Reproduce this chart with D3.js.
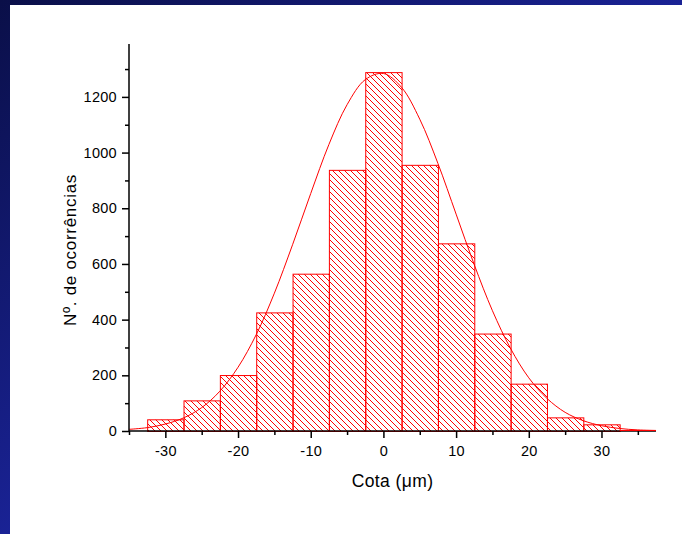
<!DOCTYPE html>
<html>
<head>
<meta charset="utf-8">
<script src="https://cdn.jsdelivr.net/npm/d3@7"></script>
<style>
  body { margin: 0; padding: 0; overflow: hidden; }
  text { font-family: Arial, "Liberation Sans", sans-serif; }
</style>
</head>
<body>
<div id="chart"></div>
<script>
// histogram bins (centre of each 5 µm class) and counts
const binCenters = [-30, -25, -20, -15, -10, -5, 0, 5, 10, 15, 20, 25, 30];
const counts = [42, 110, 201, 426, 565, 938, 1289, 956, 674, 350, 170, 49, 24];
const binWidth = 5;

// fitted normal curve
const fitX = [-35, -32.5, -30, -27.5, -25, -22.5, -20, -17.5, -15, -12.5, -10, -7.5, -5, -2.5,
              0, 2.5, 5, 7.5, 10, 12.5, 15, 17.5, 20, 22.5, 25, 27.5, 30, 32.5, 35, 37.5];
const fitY = [6, 12, 25, 47, 84, 143, 229, 346, 495, 669, 853, 1029, 1172, 1262,
              1284, 1234, 1120, 961, 779, 597, 432, 296, 191, 117, 67, 37, 19, 9, 4, 2];

const xTicks = [-30, -20, -10, 0, 10, 20, 30];
const xMinorTicks = [-35, -25, -15, -5, 5, 15, 25, 35];
const yTicks = [0, 200, 400, 600, 800, 1000, 1200];
const yMinorTicks = [100, 300, 500, 700, 900, 1100, 1300];

const width = 682;
const height = 534;
const red = "#ff0000";

const svg = d3.select("#chart")
    .append("svg")
    .attr("width", width)
    .attr("height", height);

const defs = svg.append("defs");

let grad = defs.append("linearGradient")
    .attr("id", "bg")
    .attr("x1", 0).attr("y1", 0)
    .attr("x2", 1).attr("y2", 1);
grad.append("stop").attr("offset", "0%").attr("stop-color", "#0a0f48");
grad.append("stop").attr("offset", "55%").attr("stop-color", "#1b249c");
grad.append("stop").attr("offset", "100%").attr("stop-color", "#1f2cb2");

let hatch = defs.append("pattern")
    .attr("id", "hatch")
    .attr("patternUnits", "userSpaceOnUse")
    .attr("width", 6)
    .attr("height", 6);
hatch.append("path")
    .attr("d", "M-1,-1L7,7M-1,5L1,7M5,-1L7,1")
    .attr("stroke", red)
    .attr("stroke-width", 1)
    .attr("fill", "none");

// blue frame with white page
svg.append("rect")
    .attr("width", width)
    .attr("height", height)
    .attr("fill", "url(#bg)");
svg.append("rect")
    .attr("x", 10)
    .attr("y", 5)
    .attr("width", width - 10)
    .attr("height", height - 5)
    .attr("fill", "white");

const x = d3.scaleLinear().domain([-35, 37.5]).range([129, 656]);
const y = d3.scaleLinear().domain([0, 1390]).range([431, 44]);

// bars
svg.selectAll("rect.bar")
    .data(binCenters)
    .enter()
    .append("rect")
    .attr("class", "bar")
    .attr("x", d => x(d - binWidth / 2) + 0.5)
    .attr("y", (d, i) => y(counts[i]) + 0.5)
    .attr("width", d => x(d + binWidth / 2) - x(d - binWidth / 2))
    .attr("height", (d, i) => y(0) - y(counts[i]))
    .attr("fill", "url(#hatch)")
    .attr("stroke", red)
    .attr("stroke-width", 1);

// fit curve
const line = d3.line()
    .x(d => x(d[0]))
    .y(d => y(d[1]))
    .curve(d3.curveCatmullRom);

svg.append("path")
    .datum(fitX.map((v, i) => [v, fitY[i]]))
    .attr("d", line)
    .attr("fill", "none")
    .attr("stroke", red)
    .attr("stroke-width", 1);

// axes
let xAxis = svg.append("g")
    .attr("transform", `translate(0,${y(0)})`)
    .call(d3.axisBottom(x).tickValues(xTicks).tickSize(7).tickPadding(8).tickFormat(d3.format("d")));
let xMinor = svg.append("g")
    .attr("transform", `translate(0,${y(0)})`)
    .call(d3.axisBottom(x).tickValues(xMinorTicks).tickSize(4).tickFormat(""));

let yAxis = svg.append("g")
    .attr("transform", `translate(${x(-35)},0)`)
    .call(d3.axisLeft(y).tickValues(yTicks).tickSize(7).tickPadding(5).tickFormat(d3.format("d")));
let yMinor = svg.append("g")
    .attr("transform", `translate(${x(-35)},0)`)
    .call(d3.axisLeft(y).tickValues(yMinorTicks).tickSize(4).tickFormat(""));

[xAxis, xMinor, yAxis, yMinor].forEach(g => {
    g.select(".domain").remove();
    g.selectAll(".tick line").attr("stroke", "black").attr("stroke-width", 1.5);
    g.selectAll(".tick text")
        .attr("fill", "black")
        .attr("font-size", "14.5px")
        .attr("letter-spacing", "0.3px")
        .attr("font-family", "Arial, 'Liberation Sans', sans-serif");
});
xAxis.selectAll(".tick text").text(d => d3.format("d")(d).replace("\u2212", "-"));

svg.append("line")
    .attr("x1", x(-35)).attr("x2", x(37.5))
    .attr("y1", y(0)).attr("y2", y(0))
    .attr("stroke", "black").attr("stroke-width", 1.5);
svg.append("line")
    .attr("x1", x(-35)).attr("x2", x(-35))
    .attr("y1", y(0)).attr("y2", y(1390))
    .attr("stroke", "black").attr("stroke-width", 1.5);

// red tail of the fit over the baseline
svg.append("line")
    .attr("x1", x(32.5)).attr("x2", x(37.5))
    .attr("y1", y(0) - 0.5).attr("y2", y(0) - 0.5)
    .attr("stroke", red).attr("stroke-width", 1);

// axis titles
svg.append("text")
    .attr("x", (x(-35) + x(37.5)) / 2)
    .attr("y", 487)
    .attr("text-anchor", "middle")
    .attr("font-size", "17.5px")
    .attr("letter-spacing", "0.4px")
    .text("Cota (\u03bcm)");

svg.append("text")
    .attr("transform", "translate(76,250) rotate(-90)")
    .attr("text-anchor", "middle")
    .attr("font-size", "17px")
    .attr("letter-spacing", "0.7px")
    .text("N\u00ba. de ocorr\u00eancias");
</script>
</body>
</html>
